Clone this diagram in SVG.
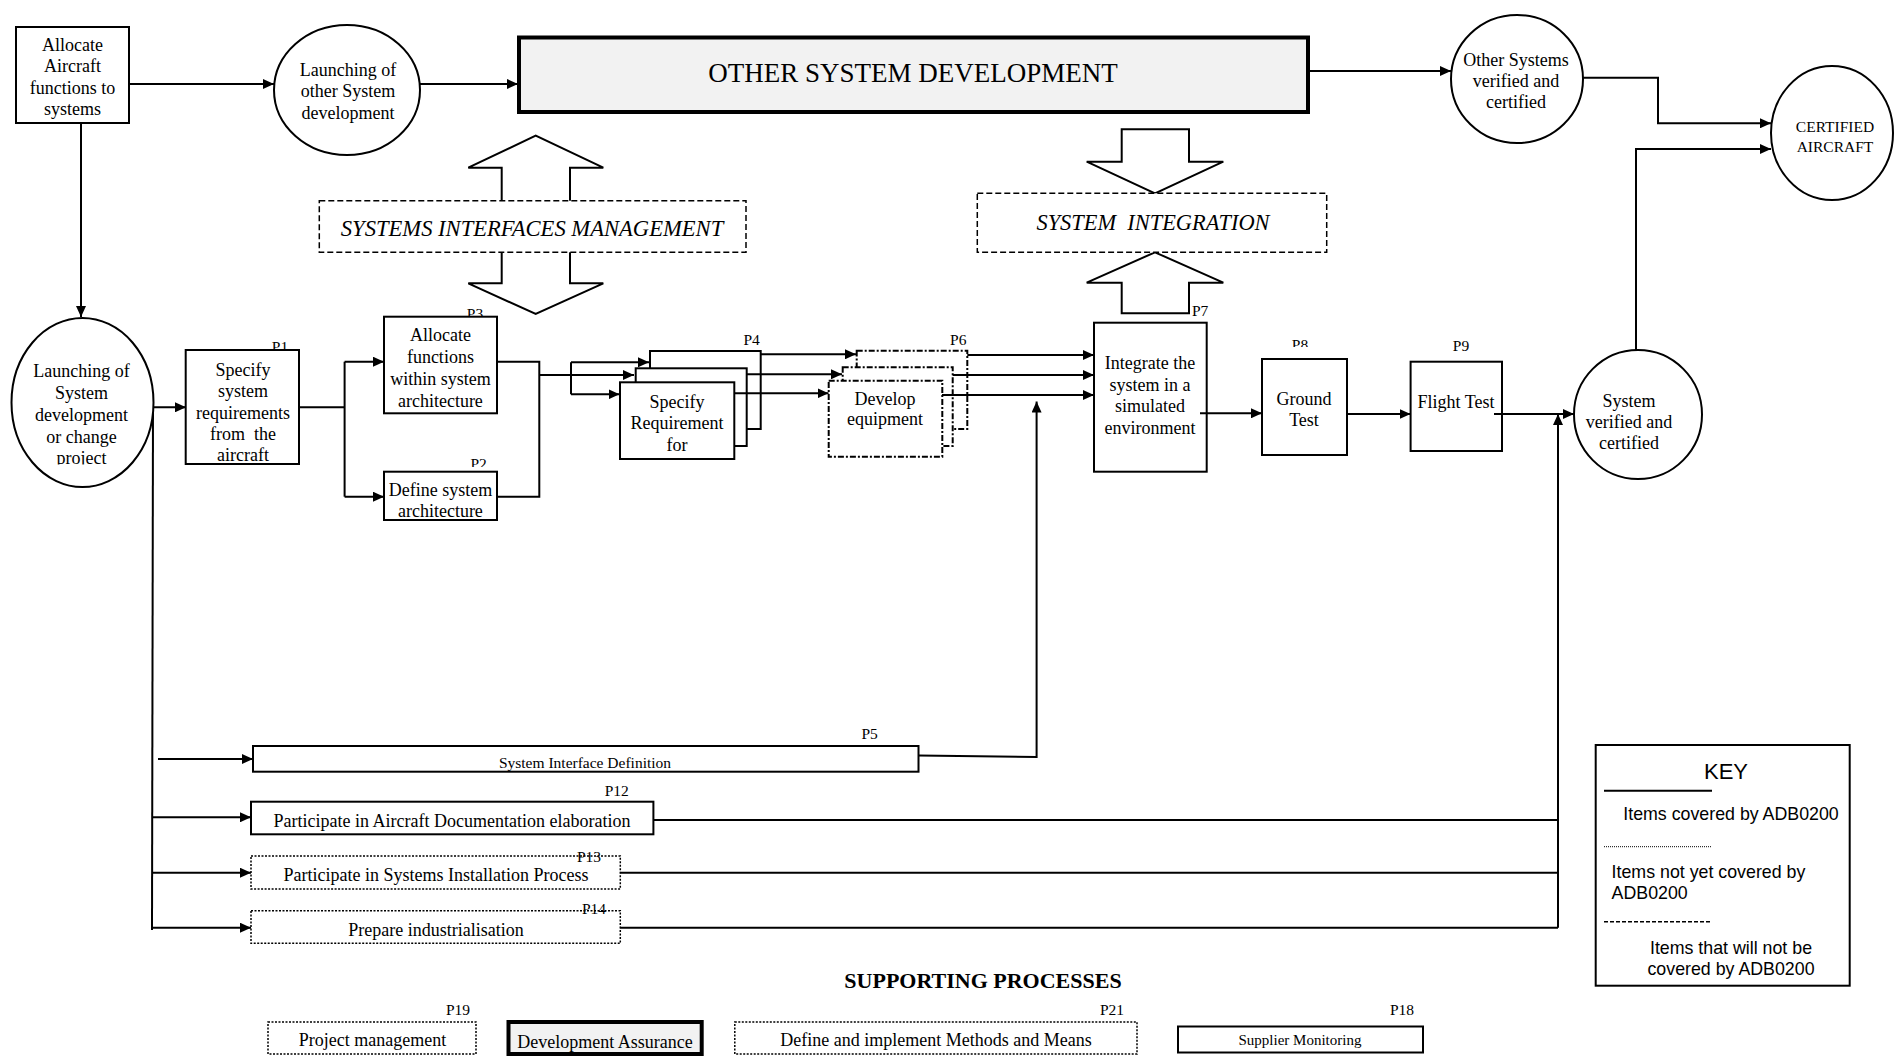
<svg xmlns="http://www.w3.org/2000/svg" width="1896" height="1056" viewBox="0 0 1896 1056">
  <style>
    .t { font-family: "Liberation Serif", "Times New Roman", serif; font-size: 18px; text-anchor: middle; fill: #000; }
    .lbl { font-family: "Liberation Serif", "Times New Roman", serif; font-size: 15.5px; text-anchor: middle; fill: #000; }
    .sans { font-family: "Liberation Sans", Arial, sans-serif; fill: #000; }
    .box { fill: #fff; stroke: #000; stroke-width: 2; }
    .dash { fill: #fff; stroke: #000; stroke-width: 1.5; stroke-dasharray: 6 3; }
    .dashdot { fill: #fff; stroke: #000; stroke-width: 2; stroke-dasharray: 6 2 2 2; }
    .dot { fill: #fff; stroke: #000; stroke-width: 1.5; stroke-dasharray: 2 1.5; }
    .ln { fill: none; stroke: #000; stroke-width: 2; }
    .arr { fill: none; stroke: #000; stroke-width: 2; marker-end: url(#ah); }
    .blk { fill: #fff; stroke: #000; stroke-width: 2; stroke-linejoin: miter; }
    .pre { white-space: pre; }
  </style>
  <defs>
    <marker id="ah" markerUnits="userSpaceOnUse" markerWidth="11" markerHeight="10" refX="11" refY="5" orient="auto">
      <path d="M0,0 L11,5 L0,10 z" fill="#000"/>
    </marker>
    <clipPath id="cLaunch"><rect x="0" y="300" width="200" height="164.5"/></clipPath>
    <clipPath id="cP1"><rect x="180" y="340" width="130" height="123"/></clipPath>
    <clipPath id="cP2"><rect x="460" y="450" width="40" height="17"/></clipPath>
    <clipPath id="cP8"><rect x="1280" y="330" width="40" height="17"/></clipPath>
  </defs>

  <rect width="1896" height="1056" fill="#fff"/>

  <!-- block arrows around the interface and integration activities -->
  <g id="block-arrows">
    <polyline class="blk" points="501.7,201 501.7,167.7 468.3,167.7 535.7,135.7 603.3,167.7 570,167.7 570,201"/>
    <polyline class="blk" points="501.7,252 501.7,283.3 468.3,283.3 535.7,314 603.3,283.3 570,283.3 570,252"/>
    <polygon class="blk" points="1121.7,129.3 1189,129.3 1189,161.7 1223.3,161.7 1155,193.3 1086.7,161.7 1121.7,161.7"/>
    <polygon class="blk" points="1155,252.3 1223.3,282.7 1189,282.7 1189,313.3 1121.7,313.3 1121.7,282.7 1086.7,282.7"/>
  </g>

  <!-- connectors -->
  <g id="connectors">
    <line class="arr" x1="129" y1="84" x2="274" y2="84"/>
    <line class="arr" x1="420" y1="84" x2="518" y2="84"/>
    <line class="arr" x1="1308" y1="71" x2="1451" y2="71"/>
    <polyline class="arr" points="1583,77.7 1658,77.7 1658,123.3 1771,123.3"/>
    <polyline class="arr" points="1636,350 1636,149 1771,149"/>
    <line class="arr" x1="81" y1="123" x2="81" y2="317"/>
    <line class="ln" x1="153" y1="403" x2="152" y2="930"/>
    <line class="arr" x1="153" y1="407.3" x2="186" y2="407.3"/>
    <line class="ln" x1="299" y1="407.3" x2="344.6" y2="407.3"/>
    <line class="ln" x1="344.6" y1="361.7" x2="344.6" y2="496.7"/>
    <line class="arr" x1="344.6" y1="361.7" x2="384" y2="361.7"/>
    <line class="arr" x1="344.6" y1="496.7" x2="384" y2="496.7"/>
    <polyline class="ln" points="497,361.7 539.3,361.7 539.3,496.7 497,496.7"/>
    <line class="arr" x1="539.3" y1="375" x2="634" y2="375"/>
    <line class="ln" x1="571" y1="362.3" x2="571" y2="394.3"/>
    <line class="arr" x1="571" y1="362.3" x2="649" y2="362.3"/>
    <line class="arr" x1="571" y1="394.3" x2="619.5" y2="394.3"/>
  </g>

  <!-- top row -->
  <g id="allocate-aircraft">
    <rect class="box" x="16" y="27" width="113" height="96"/>
    <text class="t" x="72.5" y="51">Allocate</text>
    <text class="t" x="72.5" y="72">Aircraft</text>
    <text class="t" x="72.5" y="93.5">functions to</text>
    <text class="t" x="72.5" y="115">systems</text>
  </g>
  <g id="launch-other">
    <ellipse class="box" cx="347" cy="90" rx="73" ry="65"/>
    <text class="t" x="348" y="76">Launching of</text>
    <text class="t" x="348" y="97">other System</text>
    <text class="t" x="348" y="118.5">development</text>
  </g>
  <g id="other-dev">
    <rect x="519" y="37.5" width="789" height="74.5" fill="#f2f2f2" stroke="#000" stroke-width="4"/>
    <text class="t" x="913" y="81.7" style="font-size:27px">OTHER SYSTEM DEVELOPMENT</text>
  </g>
  <g id="other-verified">
    <ellipse class="box" cx="1517" cy="79" rx="66" ry="64"/>
    <text class="t" x="1516" y="66">Other Systems</text>
    <text class="t" x="1516" y="87">verified and</text>
    <text class="t" x="1516" y="107.7">certified</text>
  </g>
  <g id="certified-aircraft">
    <ellipse class="box" cx="1832" cy="133" rx="61" ry="67"/>
    <text class="t" x="1835" y="131.5" style="font-size:15.5px">CERTIFIED</text>
    <text class="t" x="1835" y="151.5" style="font-size:15.5px">AIRCRAFT</text>
  </g>

  <!-- management / integration bands -->
  <g id="interfaces-mgmt">
    <rect class="dash" x="319.3" y="200.7" width="426.7" height="51.6"/>
    <text class="t" x="532" y="235.8" style="font-size:22.6px;font-style:italic">SYSTEMS INTERFACES MANAGEMENT</text>
  </g>
  <g id="integration">
    <rect class="dash" x="977.3" y="193.3" width="349.4" height="59"/>
    <text class="t pre" x="1153" y="230" style="font-size:22.4px;font-style:italic">SYSTEM  INTEGRATION</text>
  </g>

  <!-- main development chain -->
  <g id="launch-system">
    <ellipse class="box" cx="82.5" cy="402.5" rx="71" ry="84.5"/>
    <g clip-path="url(#cLaunch)">
      <text class="t" x="81.4" y="377">Launching of</text>
      <text class="t" x="81.4" y="399.3">System</text>
      <text class="t" x="81.4" y="421">development</text>
      <text class="t" x="81.4" y="442.7">or change</text>
      <text class="t" x="81.4" y="464.3">project</text>
    </g>
  </g>
  <g id="p1">
    <text class="lbl" x="280" y="352">P1</text>
    <rect class="box" x="185.7" y="350" width="113.3" height="114"/>
    <g clip-path="url(#cP1)">
      <text class="t" x="243" y="376">Specify</text>
      <text class="t" x="243" y="397">system</text>
      <text class="t" x="243" y="418.5">requirements</text>
      <text class="t pre" x="243" y="439.5">from  the</text>
      <text class="t" x="243" y="461">aircraft</text>
    </g>
  </g>
  <g id="p3">
    <text class="lbl" x="475" y="319">P3</text>
    <rect class="box" x="384" y="316.7" width="113" height="96.6"/>
    <text class="t" x="440.4" y="341">Allocate</text>
    <text class="t" x="440.4" y="363.3">functions</text>
    <text class="t" x="440.4" y="385.3">within system</text>
    <text class="t" x="440.4" y="406.7">architecture</text>
  </g>
  <g id="p2">
    <text class="lbl" x="478.6" y="469" clip-path="url(#cP2)">P2</text>
    <rect class="box" x="384" y="471.7" width="113" height="48.3"/>
    <text class="t" x="440.4" y="496">Define system</text>
    <text class="t" x="440.4" y="516.5">architecture</text>
  </g>
  <g id="p4">
    <text class="lbl" x="751.7" y="344.5">P4</text>
    <rect class="box" x="650" y="351" width="110.7" height="78"/>
    <rect class="box" x="635.7" y="368.3" width="111" height="77.7"/>
    <rect class="box" x="620" y="382.3" width="114.3" height="76.7"/>
    <text class="t" x="677" y="407.7">Specify</text>
    <text class="t" x="677" y="429.3">Requirement</text>
    <text class="t" x="677" y="451">for</text>
  </g>
  <g id="p6">
    <text class="lbl" x="958.3" y="344.5">P6</text>
    <rect class="dashdot" x="856.7" y="350.7" width="110.6" height="78.3"/>
    <rect class="dashdot" x="842.7" y="367.3" width="110" height="78.7"/>
    <rect class="dashdot" x="828.7" y="380.7" width="113.6" height="76"/>
    <text class="t" x="885" y="405">Develop</text>
    <text class="t" x="885" y="425.3">equipment</text>
  </g>
  <g id="p7">
    <text class="lbl" x="1192" y="316" style="text-anchor:start">P7</text>
    <rect class="box" x="1094" y="322.7" width="112.7" height="149"/>
    <text class="t" x="1150" y="369">Integrate the</text>
    <text class="t" x="1150" y="391">system in a</text>
    <text class="t" x="1150" y="412">simulated</text>
    <text class="t" x="1150" y="434">environment</text>
  </g>
  <g id="p8">
    <text class="lbl" x="1300" y="350" clip-path="url(#cP8)">P8</text>
    <rect class="box" x="1262" y="359" width="85" height="96"/>
    <text class="t" x="1304" y="405">Ground</text>
    <text class="t" x="1304" y="426">Test</text>
  </g>
  <g id="p9">
    <text class="lbl" x="1461" y="350.5">P9</text>
    <rect class="box" x="1410.6" y="361.7" width="91.4" height="89.3"/>
    <text class="t" x="1456" y="407.7">Flight Test</text>
  </g>
  <g id="system-verified">
    <ellipse class="box" cx="1638" cy="414.5" rx="64" ry="64.5"/>
    <text class="t" x="1629" y="406.7">System</text>
    <text class="t" x="1629" y="427.7">verified and</text>
    <text class="t" x="1629" y="449.3">certified</text>
  </g>

  <!-- flows drawn over the stacked boxes -->
  <g id="connectors-2">
    <line class="arr" x1="760.7" y1="354.3" x2="856" y2="354.3"/>
    <line class="arr" x1="746.7" y1="374.3" x2="842" y2="374.3"/>
    <line class="arr" x1="734.3" y1="393.3" x2="828.5" y2="393.3"/>
    <line class="arr" x1="967.3" y1="355" x2="1094" y2="355"/>
    <line class="arr" x1="952.7" y1="375" x2="1094" y2="375"/>
    <line class="arr" x1="942" y1="395" x2="1094" y2="395"/>
    <line class="arr" x1="1200" y1="413.3" x2="1262" y2="413.3"/>
    <line class="arr" x1="1347" y1="414" x2="1410.6" y2="414"/>
    <line class="arr" x1="1494" y1="414" x2="1574" y2="414"/>
    <line class="arr" x1="1558" y1="927.7" x2="1558" y2="414"/>
    <polyline class="arr" points="918.5,755.5 1036.6,757 1036.6,401.5"/>
    <line class="arr" x1="158" y1="759" x2="253" y2="759"/>
    <line class="arr" x1="153" y1="817.3" x2="251" y2="817.3"/>
    <line class="arr" x1="153" y1="872.7" x2="251" y2="872.7"/>
    <line class="arr" x1="153" y1="927.7" x2="251" y2="927.7"/>
    <line class="ln" x1="653.4" y1="820" x2="1558" y2="820"/>
    <line class="ln" x1="620.3" y1="872.7" x2="1558" y2="872.7"/>
    <line class="ln" x1="620.3" y1="927.7" x2="1558" y2="927.7"/>
  </g>

  <!-- parallel activities -->
  <g id="p5">
    <text class="lbl" x="869.6" y="739">P5</text>
    <rect class="box" x="253" y="746" width="665.5" height="25.7"/>
    <text class="t" x="585" y="767.5" style="font-size:15.5px">System Interface Definition</text>
  </g>
  <g id="p12">
    <text class="lbl" x="616.7" y="795.5">P12</text>
    <rect class="box" x="251" y="801.7" width="402.4" height="32.6"/>
    <text class="t" x="452" y="826.7">Participate in Aircraft Documentation elaboration</text>
  </g>
  <g id="p13">
    <rect class="dot" x="251" y="856" width="369.3" height="33"/>
    <text class="lbl" x="589" y="861.5">P13</text>
    <text class="t" x="436" y="881">Participate in Systems Installation Process</text>
  </g>
  <g id="p14">
    <text class="lbl" x="594" y="913.5">P14</text>
    <rect class="dot" x="251" y="910.7" width="369.3" height="32.6" style="fill:none"/>
    <text class="t" x="436" y="936">Prepare industrialisation</text>
  </g>

  <!-- legend -->
  <g id="key">
    <rect class="box" x="1595.7" y="745" width="254" height="240.7"/>
    <text class="sans" x="1726" y="778.6" style="font-size:22px;text-anchor:middle">KEY</text>
    <line x1="1604" y1="790.7" x2="1712" y2="790.7" stroke="#000" stroke-width="2"/>
    <text class="sans" x="1731" y="819.6" style="font-size:17.8px;text-anchor:middle">Items covered by ADB0200</text>
    <line x1="1604" y1="846.7" x2="1712" y2="846.7" stroke="#000" stroke-width="1" stroke-dasharray="1 1"/>
    <text class="sans" x="1611.6" y="878" style="font-size:17.8px">Items not yet covered by</text>
    <text class="sans" x="1611.6" y="899" style="font-size:17.8px">ADB0200</text>
    <line x1="1604" y1="921.7" x2="1712" y2="921.7" stroke="#000" stroke-width="1.5" stroke-dasharray="4 2"/>
    <text class="sans" x="1731" y="953.6" style="font-size:17.8px;text-anchor:middle">Items that will not be</text>
    <text class="sans" x="1731" y="974.6" style="font-size:17.8px;text-anchor:middle">covered by ADB0200</text>
  </g>

  <!-- supporting processes -->
  <text class="t" x="983" y="988" style="font-size:22px;font-weight:bold">SUPPORTING PROCESSES</text>
  <g id="p19">
    <text class="lbl" x="458" y="1015">P19</text>
    <rect class="dot" x="268" y="1022" width="208" height="32"/>
    <text class="t" x="372.5" y="1046">Project management</text>
  </g>
  <g id="dev-assurance">
    <rect x="508.5" y="1022" width="193.2" height="32" fill="#f2f2f2" stroke="#000" stroke-width="4"/>
    <text class="t" x="605" y="1048">Development Assurance</text>
  </g>
  <g id="p21">
    <text class="lbl" x="1112" y="1015">P21</text>
    <rect class="dot" x="734.8" y="1022" width="402.2" height="32"/>
    <text class="t" x="936" y="1046">Define and implement Methods and Means</text>
  </g>
  <g id="p18">
    <text class="lbl" x="1402" y="1015">P18</text>
    <rect class="box" x="1178" y="1026.5" width="245" height="26"/>
    <text class="t" x="1300" y="1045" style="font-size:15px">Supplier Monitoring</text>
  </g>
</svg>
